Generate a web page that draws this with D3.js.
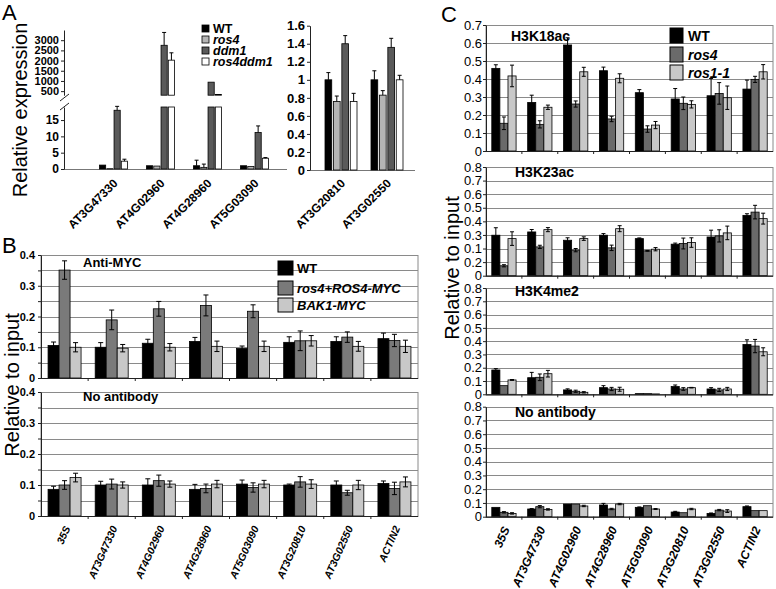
<!DOCTYPE html>
<html lang="en">
<head>
<meta charset="UTF-8">
<title>ROS4 expression and ChIP</title>
<style>
    body { margin: 0; background: #fff; }
    svg { display: block; font-family: Arial, "Liberation Sans", sans-serif; }
</style>
</head>
<body>
<svg id="fig" width="776" height="589"></svg>
<script src="https://d3js.org/d3.v7.min.js"></script>
<script>
// ---------- data ----------
// Panel A (qRT-PCR)
const genesA = ["AT3G47330", "AT4G02960", "AT4G28960", "AT5G03090"];
const genesA2 = ["AT3G20810", "AT3G02550"];
const seriesA = ["WT", "ros4", "ddm1", "ros4ddm1"];
const valuesA = [[1.2, 0.1, 18.0, 2.4], [1.0, 0.9, 2750, 2020], [1.0, 0.5, 940, 330], [1.0, 0.8, 11.2, 3.3]];
const errorsA = [[0, 0, 1.2, 0.6], [0, 0, 630, 360], [1.7, 1.0, 0, 0], [0, 0, 2.0, 0.2]];
const valuesA2 = [[1.0, 0.76, 1.4, 0.76], [1.0, 0.83, 1.36, 1.0]];
const errorsA2 = [[0.08, 0.06, 0.09, 0.09], [0.1, 0.05, 0.1, 0.05]];
const ticksALow = [0, 5, 10, 15];
const ticksAHigh = [500, 1000, 1500, 2000, 2500, 3000];
const ticksA2 = [0, 0.2, 0.4, 0.6, 0.8, 1, 1.2, 1.4, 1.6];
const tickLabelsA2 = ["0", "0.2", "0.4", "0.6", "0.8", "1", "1.2", "1.4", "1.6"];

// Panels B and C (ChIP)
const genesChip = ["35S", "AT3G47330", "AT4G02960", "AT4G28960", "AT5G03090", "AT3G20810", "AT3G02550", "ACTIN2"];
const seriesB = ["WT", "ros4+ROS4-MYC", "BAK1-MYC"];
const bMycValues = [[0.106, 0.351, 0.100], [0.100, 0.189, 0.097], [0.113, 0.225, 0.100], [0.119, 0.236, 0.103],
    [0.096, 0.217, 0.103], [0.116, 0.121, 0.121], [0.119, 0.133, 0.103], [0.128, 0.122, 0.103]];
const bMycErrors = [[0.011, 0.03, 0.015], [0.015, 0.032, 0.012], [0.013, 0.024, 0.012], [0.013, 0.034, 0.017],
    [0.008, 0.021, 0.017], [0.018, 0.032, 0.017], [0.015, 0.017, 0.016], [0.018, 0.02, 0.02]];
const bNoAbValues = [[0.086, 0.100, 0.124], [0.100, 0.103, 0.100], [0.100, 0.114, 0.103], [0.086, 0.089, 0.103],
    [0.103, 0.092, 0.103], [0.100, 0.110, 0.103], [0.100, 0.075, 0.100], [0.105, 0.089, 0.110]];
const bNoAbErrors = [[0.01, 0.014, 0.014], [0.012, 0.016, 0.01], [0.02, 0.018, 0.01], [0.016, 0.014, 0.012],
    [0.013, 0.015, 0.012], [0.003, 0.017, 0.014], [0.013, 0.008, 0.015], [0.008, 0.02, 0.016]];
const ticksB = [0, 0.05, 0.1, 0.15, 0.2, 0.25, 0.3, 0.35, 0.4];
const tickLabelsB = ["0", "", "0.1", "", "0.2", "", "0.3", "", "0.4"];

const seriesC = ["WT", "ros4", "ros1-1"];
const c18Values = [[0.459, 0.154, 0.417], [0.270, 0.148, 0.243], [0.589, 0.261, 0.440], [0.446, 0.178, 0.404],
    [0.324, 0.122, 0.144], [0.289, 0.265, 0.259], [0.307, 0.320, 0.296], [0.344, 0.398, 0.440]];
const c18Errors = [[0.02, 0.035, 0.06], [0.04, 0.02, 0.012], [0.04, 0.017, 0.025], [0.02, 0.015, 0.025],
    [0.017, 0.018, 0.02], [0.058, 0.035, 0.02], [0.096, 0.06, 0.065], [0.05, 0.017, 0.04]];
const c23Values = [[0.298, 0.073, 0.273], [0.322, 0.212, 0.339], [0.261, 0.188, 0.273], [0.298, 0.205, 0.346],
    [0.273, 0.183, 0.195], [0.232, 0.237, 0.244], [0.285, 0.293, 0.315], [0.444, 0.468, 0.420]];
const c23Errors = [[0.055, 0.008, 0.05], [0.018, 0.012, 0.015], [0.018, 0.012, 0.013], [0.012, 0.02, 0.022],
    [0.005, 0.003, 0.012], [0.008, 0.04, 0.035], [0.05, 0.045, 0.05], [0.012, 0.05, 0.04]];
const c4Values = [[0.183, 0.065, 0.108], [0.125, 0.128, 0.155], [0.033, 0.023, 0.015], [0.050, 0.040, 0.038],
    [0.005, 0.005, 0.003], [0.058, 0.040, 0.050], [0.040, 0.033, 0.040], [0.375, 0.363, 0.320]];
const c4Errors = [[0.01, 0, 0.003], [0.04, 0.025, 0.025], [0.008, 0.008, 0.005], [0.015, 0.012, 0.015],
    [0, 0, 0], [0.012, 0.01, 0.002], [0.01, 0.012, 0.012], [0.035, 0.05, 0.03]];
const cNoAbValues = [[0.068, 0.032, 0.024], [0.056, 0.073, 0.053], [0.092, 0.092, 0.078], [0.085, 0.056, 0.092],
    [0.068, 0.080, 0.056], [0.034, 0.029, 0.056], [0.024, 0.048, 0.041], [0.073, 0.044, 0.044]];
const cNoAbErrors = [[0, 0.005, 0.005], [0.003, 0.008, 0.005], [0, 0, 0.005], [0.012, 0.005, 0.005],
    [0.003, 0, 0.003], [0.005, 0, 0.005], [0.003, 0.005, 0.01], [0.005, 0, 0]];
const ticksC7 = [0, 0.1, 0.2, 0.3, 0.4, 0.5, 0.6, 0.7];
const tickLabelsC7 = ["0", "0.1", "0.2", "0.3", "0.4", "0.5", "0.6", "0.7"];
const ticksC8 = [0, 0.1, 0.2, 0.3, 0.4, 0.5, 0.6, 0.7, 0.8];
const tickLabelsC8 = ["0", "0.1", "0.2", "0.3", "0.4", "0.5", "0.6", "0.7", "0.8"];
// the H3K23ac axis in the figure has 0.1 and 0.2 swapped
const tickLabelsC23 = ["0", "0.2", "0.1", "0.3", "0.4", "0.5", "0.6", "0.7", "0.8"];

const colorsA = ["#000", "#b4b4b4", "#5a5a5a", "#fff"];
const colorsB = ["#000", "#7a7a7a", "#c8c8c8"];
const colorsC = ["#000", "#6a6a6a", "#c8c8c8"];

const svg = d3.select("#fig");

function label(x, y, txt, size, opts = {}) {
    return svg.append("text")
        .attr("x", x).attr("y", y)
        .attr("font-size", size)
        .attr("font-weight", opts.bold ? "bold" : "normal")
        .attr("font-style", opts.italic ? "italic" : "normal")
        .attr("text-anchor", opts.anchor || "start")
        .attr("transform", opts.rotate != null ? `rotate(${opts.rotate},${x},${y})` : null)
        .text(txt);
}

function styleAxis(sel, size, bold) {
    sel.selectAll("text").attr("font-size", size).attr("font-weight", bold ? "bold" : "normal")
        .attr("font-family", null).attr("fill", "#000");
    sel.selectAll("line").attr("stroke", "#222");
    sel.select(".domain").attr("stroke", "#222");
}

// ---------- panel A, broken axis ----------
const xA = d3.scaleBand().domain(genesA).range([90, 278]);
const innerA = d3.scaleBand().domain(seriesA).range([0, 28]).paddingInner(0.15);
const yLow = d3.scaleLinear().domain([0, 19]).range([169, 107]);
const yHigh = d3.scaleLinear().domain([300, 3500]).range([95.2, 30]);
const lowMax = 19;

const rowsA = genesA.flatMap((gene, gi) => seriesA.map((s, si) => ({ gene, s, si, v: valuesA[gi][si], e: errorsA[gi][si] })));
const gA = svg.append("g");
const barX = d => xA(d.gene) + (xA.bandwidth() - 28) / 2 + innerA(d.s);

gA.append("line").attr("x1", 64).attr("x2", 287).attr("y1", 169.5).attr("y2", 169.5).attr("stroke", "#777");

// lower part
gA.selectAll(".lo").data(rowsA).join("rect")
    .attr("x", barX).attr("width", innerA.bandwidth())
    .attr("y", d => yLow(Math.min(d.v, lowMax)))
    .attr("height", d => yLow(0) - yLow(Math.min(d.v, lowMax)))
    .attr("fill", d => colorsA[d.si]).attr("stroke", "#000").attr("stroke-width", 0.8);
// upper part
gA.selectAll(".hi").data(rowsA.filter(d => d.v > lowMax)).join("rect")
    .attr("x", barX).attr("width", innerA.bandwidth())
    .attr("y", d => yHigh(d.v)).attr("height", d => yHigh(300) - yHigh(d.v))
    .attr("fill", d => colorsA[d.si]).attr("stroke", "#000").attr("stroke-width", 0.8);
// error bars (upward only)
const errA = gA.selectAll(".ea").data(rowsA.filter(d => d.e > 0)).join("g");
const yOf = v => (v > lowMax ? yHigh(v) : yLow(v));
errA.append("line")
    .attr("x1", d => barX(d) + innerA.bandwidth() / 2).attr("x2", d => barX(d) + innerA.bandwidth() / 2)
    .attr("y1", d => yOf(d.v)).attr("y2", d => (d.v > lowMax ? yHigh(d.v + d.e) : yLow(d.v + d.e)))
    .attr("stroke", "#000");
errA.append("line")
    .attr("x1", d => barX(d) + innerA.bandwidth() / 2 - 2).attr("x2", d => barX(d) + innerA.bandwidth() / 2 + 2)
    .attr("y1", d => (d.v > lowMax ? yHigh(d.v + d.e) : yLow(d.v + d.e)))
    .attr("y2", d => (d.v > lowMax ? yHigh(d.v + d.e) : yLow(d.v + d.e)))
    .attr("stroke", "#000");

const axLow = gA.append("g").attr("transform", "translate(64,0)")
    .call(d3.axisLeft(yLow).tickValues(ticksALow).tickSize(3).tickSizeOuter(0).tickPadding(2));
const axHigh = gA.append("g").attr("transform", "translate(64,0)")
    .call(d3.axisLeft(yHigh).tickValues(ticksAHigh).tickFormat(d3.format("d")).tickSize(3).tickSizeOuter(0).tickPadding(2));
styleAxis(axLow, 12, true);
styleAxis(axHigh, 11, true);
// break marks
gA.append("line").attr("x1", 60).attr("y1", 101).attr("x2", 69).attr("y2", 94).attr("stroke", "#222");
gA.append("line").attr("x1", 60).attr("y1", 110).attr("x2", 69).attr("y2", 103).attr("stroke", "#222");

genesA.forEach(g => label(xA(g) + xA.bandwidth() / 2 + 5, 184, g, 12, { bold: true, anchor: "end", rotate: -45 }));

// panel A right
const xA2 = d3.scaleBand().domain(genesA2).range([318, 410]);
const innerA2 = d3.scaleBand().domain(seriesA).range([0, 32]).paddingInner(0.2);
const yA2 = d3.scaleLinear().domain([0, 1.6]).range([170, 25.7]);
const rowsA2 = genesA2.flatMap((gene, gi) => seriesA.map((s, si) => ({ gene, s, si, v: valuesA2[gi][si], e: errorsA2[gi][si] })));
const barX2 = d => xA2(d.gene) + (xA2.bandwidth() - 32) / 2 + innerA2(d.s);
const gA2 = svg.append("g");
gA2.append("line").attr("x1", 310).attr("x2", 415).attr("y1", 170.5).attr("y2", 170.5).attr("stroke", "#777");
gA2.selectAll("rect").data(rowsA2).join("rect")
    .attr("x", barX2).attr("width", innerA2.bandwidth())
    .attr("y", d => yA2(d.v)).attr("height", d => yA2(0) - yA2(d.v))
    .attr("fill", d => colorsA[d.si]).attr("stroke", "#000").attr("stroke-width", 0.8);
const errA2 = gA2.selectAll(".ea").data(rowsA2).join("g");
errA2.append("line")
    .attr("x1", d => barX2(d) + innerA2.bandwidth() / 2).attr("x2", d => barX2(d) + innerA2.bandwidth() / 2)
    .attr("y1", d => yA2(d.v)).attr("y2", d => yA2(d.v + d.e)).attr("stroke", "#000");
errA2.append("line")
    .attr("x1", d => barX2(d) + innerA2.bandwidth() / 2 - 2).attr("x2", d => barX2(d) + innerA2.bandwidth() / 2 + 2)
    .attr("y1", d => yA2(d.v + d.e)).attr("y2", d => yA2(d.v + d.e)).attr("stroke", "#000");
const axA2 = gA2.append("g").attr("transform", "translate(310,0)")
    .call(d3.axisLeft(yA2).tickValues(ticksA2).tickFormat((d, i) => tickLabelsA2[i]).tickSize(3).tickSizeOuter(0).tickPadding(2));
styleAxis(axA2, 13, true);
genesA2.forEach(g => label(xA2(g) + xA2.bandwidth() / 2 + 5, 184, g, 12, { bold: true, anchor: "end", rotate: -45 }));

// legend A
seriesA.forEach((s, i) => {
    svg.append("rect").attr("x", 202).attr("y", 25 + i * 11).attr("width", 7).attr("height", 7)
        .attr("fill", colorsA[i]).attr("stroke", "#000").attr("stroke-width", 0.8);
    label(213, 32.5 + i * 11, s, 12.5, { bold: true, italic: i > 0 });
});
label(2, 20, "A", 22);
label(27, 110, "Relative expression", 20, { anchor: "middle", rotate: -90 });

// ---------- grouped bar panel (B and C) ----------
function barPanel(o) {
    const g = svg.append("g");
    const x = d3.scaleBand().domain(genesChip).range([o.left, o.right]);
    const inner = d3.scaleBand().domain(o.series).range([0, o.groupWidth]);
    const y = d3.scaleLinear().domain([0, o.yMax]).range([o.bottom, o.top]);
    const off = (x.bandwidth() - o.groupWidth) / 2;

    g.selectAll(".grid").data(o.ticks).join("line")
        .attr("x1", o.left).attr("x2", o.right)
        .attr("y1", d => Math.round(y(d)) + 0.5).attr("y2", d => Math.round(y(d)) + 0.5)
        .attr("stroke", "#8a8a8a");
    g.append("rect").attr("x", o.left).attr("y", Math.round(o.top) + 0.5)
        .attr("width", o.right - o.left).attr("height", o.bottom - Math.round(o.top))
        .attr("fill", "none").attr("stroke", "#8a8a8a");

    const rows = genesChip.flatMap((gene, gi) => o.series.map((s, si) => ({ gene, s, si, v: o.values[gi][si], e: o.errors[gi][si] })));
    const bx = d => x(d.gene) + off + inner(d.s);
    g.selectAll(".bar").data(rows).join("rect")
        .attr("x", bx).attr("width", inner.bandwidth())
        .attr("y", d => y(d.v)).attr("height", d => y(0) - y(d.v))
        .attr("fill", d => o.colors[d.si]).attr("stroke", "#000").attr("stroke-width", 0.8);

    const eb = g.selectAll(".err").data(rows.filter(d => d.e > 0)).join("g")
        .attr("stroke", "#000").attr("stroke-width", 1);
    const cx = d => bx(d) + inner.bandwidth() / 2;
    eb.append("line").attr("x1", cx).attr("x2", cx).attr("y1", d => y(d.v - d.e)).attr("y2", d => y(d.v + d.e));
    eb.append("line").attr("x1", d => cx(d) - o.cap).attr("x2", d => cx(d) + o.cap)
        .attr("y1", d => y(d.v + d.e)).attr("y2", d => y(d.v + d.e));
    eb.append("line").attr("x1", d => cx(d) - o.cap).attr("x2", d => cx(d) + o.cap)
        .attr("y1", d => y(d.v - d.e)).attr("y2", d => y(d.v - d.e));

    const ax = g.append("g").attr("transform", `translate(${o.left},0)`)
        .call(d3.axisLeft(y).tickValues(o.ticks).tickFormat((d, i) => o.tickLabels[i])
            .tickSize(3).tickSizeOuter(0).tickPadding(o.pad));
    styleAxis(ax, o.tickFont, o.tickBold);

    g.append("line").attr("x1", o.left).attr("x2", o.right)
        .attr("y1", y(0) + 0.5).attr("y2", y(0) + 0.5).attr("stroke", "#222").attr("stroke-width", 1.2);
    g.selectAll(".xt").data(genesChip.slice(1)).join("line")
        .attr("x1", d => x(d)).attr("x2", d => x(d))
        .attr("y1", y(0)).attr("y2", y(0) + 3).attr("stroke", "#222");

    label(o.titleX, o.titleY, o.title, o.titleFont, { bold: true });
    return x;
}

// ---------- panel B ----------
const bCommon = { series: seriesB, colors: colorsB, left: 41, right: 418, groupWidth: 33, yMax: 0.4,
    ticks: ticksB, tickLabels: tickLabelsB, tickFont: 11, tickBold: true, pad: 3, cap: 2.5, titleFont: 13 };
barPanel({ ...bCommon, values: bMycValues, errors: bMycErrors, top: 255, bottom: 378,
    title: "Anti-MYC", titleX: 83, titleY: 267 });
const xB = barPanel({ ...bCommon, values: bNoAbValues, errors: bNoAbErrors, top: 392, bottom: 516,
    title: "No antibody", titleX: 83, titleY: 401 });
genesChip.forEach(g => label(xB(g) + xB.bandwidth() / 2 + 6, 528, g, 10.5, { bold: true, italic: true, anchor: "end", rotate: -66 }));

seriesB.forEach((s, i) => {
    const yy = [261, 281, 298][i];
    svg.append("rect").attr("x", 278).attr("y", yy).attr("width", 15).attr("height", 14)
        .attr("fill", colorsB[i]).attr("stroke", "#000").attr("stroke-width", 1);
    label(297, yy + 12, s, 13, { bold: true, italic: i > 0 });
});
label(2, 253, "B", 22);
label(19, 385, "Relative to input", 20, { anchor: "middle", rotate: -90 });

// ---------- panel C ----------
const cCommon = { series: seriesC, colors: colorsC, left: 486, right: 773, groupWidth: 24.3,
    tickFont: 13, tickBold: false, pad: 1, cap: 2, titleFont: 14 };
barPanel({ ...cCommon, values: c18Values, errors: c18Errors, top: 25, bottom: 151, yMax: 0.7,
    ticks: ticksC7, tickLabels: tickLabelsC7, title: "H3K18ac", titleX: 511, titleY: 41 });
barPanel({ ...cCommon, values: c23Values, errors: c23Errors, top: 167, bottom: 275.7, yMax: 0.8,
    ticks: ticksC8, tickLabels: tickLabelsC23, title: "H3K23ac", titleX: 515, titleY: 177 });
barPanel({ ...cCommon, values: c4Values, errors: c4Errors, top: 288, bottom: 394.3, yMax: 0.8,
    ticks: ticksC8, tickLabels: tickLabelsC8, title: "H3K4me2", titleX: 515, titleY: 296 });
const xC = barPanel({ ...cCommon, values: cNoAbValues, errors: cNoAbErrors, top: 406.7, bottom: 516.7, yMax: 0.8,
    ticks: ticksC8, tickLabels: tickLabelsC8, title: "No antibody", titleX: 515, titleY: 417 });
genesChip.forEach(g => label(xC(g) + xC.bandwidth() / 2 + 6, 529, g, 12, { bold: true, italic: true, anchor: "end", rotate: -66 }));

seriesC.forEach((s, i) => {
    const yy = [28, 47, 65][i];
    svg.append("rect").attr("x", 670).attr("y", yy).attr("width", 13).attr("height", 15)
        .attr("fill", colorsC[i]).attr("stroke", "#000").attr("stroke-width", 1);
    label(688, yy + 13, s, 14, { bold: true, italic: i > 0 });
});
label(441, 22, "C", 22);
label(459, 268, "Relative to input", 20, { anchor: "middle", rotate: -90 });
</script>
</body>
</html>
